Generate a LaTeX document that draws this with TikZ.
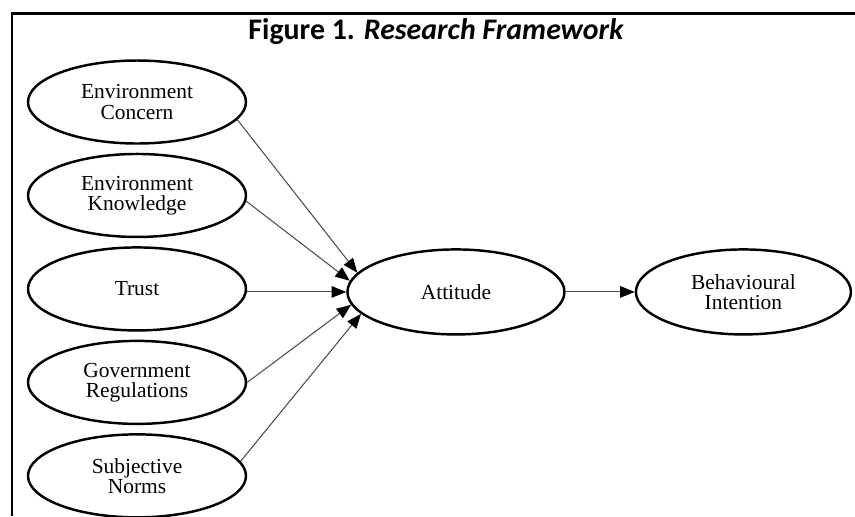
\documentclass[tikz,border=0pt]{standalone}
\usepackage{fontspec}
\setmainfont{Liberation Serif}
\newfontfamily\titlefont{Carlito}
\usepackage{tikz}
\usetikzlibrary{arrows.meta,positioning,shapes.geometric}

\begin{document}
\begin{tikzpicture}[
    node distance=0.16cm and 1.98cm,
    construct/.style={ellipse, draw=black, line width=1.4pt, inner sep=0pt, align=center, minimum width=4.36cm, minimum height=1.66cm, font=\fontsize{12.2}{11.5}\selectfont},
    arrow/.style={-{Triangle[length=2.9mm, width=2.3mm, color=black]}, line width=0.6pt, draw=gray!60!black}
]
    \useasboundingbox (0,0) rectangle (17.1,-10.32);
    % Frame and title
    \draw [line width=1.7pt] (17.1,-0.26) -- (0.24,-0.26) -- (0.24,-10.32);
    \node (title) at (8.72,-0.63) {\titlefont\fontsize{17}{19}\selectfont\bfseries Figure 1. \itshape Research Framework};

    % Nodes (Antecedents)
    \node (env_concern) [construct] at (2.74,-2.04) {Environment\\Concern};
    \node (env_knowledge) [construct, below=of env_concern] {Environment\\Knowledge};
    \node (trust) [construct, below=of env_knowledge] {Trust};
    \node (gov_reg) [construct, below=of trust] {Government\\Regulations};
    \node (subj_norms) [construct, below=of gov_reg] {Subjective\\Norms};

    % Mediator and outcome
    \node (attitude) [construct, minimum width=4.34cm, minimum height=1.7cm, right=of trust, yshift=-0.06cm] {Attitude};
    \node (intention) [construct, minimum width=4.3cm, minimum height=1.7cm, right=1.38cm of attitude] {Behavioural\\Intention};

    % Arrows
    \draw [arrow] (env_concern.-10) -- (attitude.169);
    \draw [arrow] (env_knowledge.-3) -- (attitude.174);
    \draw [arrow] (trust.east |- attitude.west) -- (attitude.west);
    \draw [arrow] (gov_reg.east) -- (attitude.187);
    \draw [arrow] (subj_norms.8) -- (attitude.193);
    \draw [arrow] (attitude.east) -- (intention.west);
\end{tikzpicture}
\end{document}
